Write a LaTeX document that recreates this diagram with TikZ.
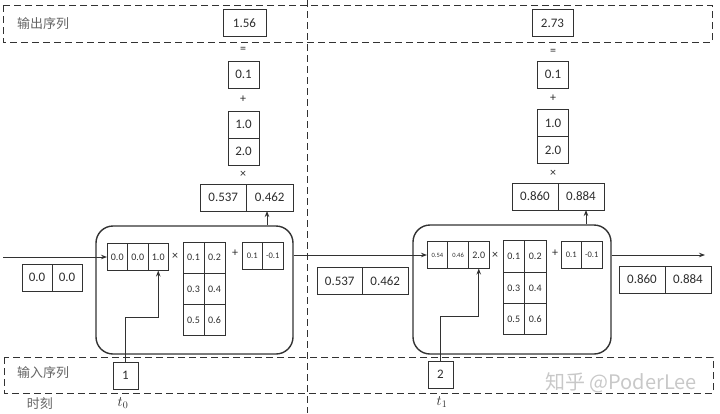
\documentclass[tikz,border=0pt]{standalone}
\usepackage{fontspec}
\setmainfont{Carlito}
\newfontfamily\cjk{Noto Sans CJK SC}
\usetikzlibrary{arrows.meta, positioning}
\definecolor{rnnline}{RGB}{50, 50, 50}
\definecolor{rnntext}{RGB}{45, 45, 45}
\definecolor{rnnlabel}{RGB}{100, 100, 100}
\definecolor{rnnmark}{RGB}{200, 200, 200}
\tikzset{
  cell/.style={rectangle, draw=rnnline, line width=0.8pt, inner sep=0pt, outer sep=0pt,
               minimum width=#1, minimum height=27pt, text=rnntext, font=\fontsize{13}{13}\selectfont},
  cell/.default=31pt,
  scell/.style={cell=#1, font=\fontsize{10}{10}\selectfont},
  scell/.default=20.5pt,
  bcell/.style={cell=#1, font=\fontsize{8.5}{8.5}\selectfont},
  bcell/.default=20.5pt,
  tcell/.style={cell=#1, font=\fontsize{6.5}{6.5}\selectfont},
  tcell/.default=20.5pt,
  mcell/.style={scell=#1, minimum height=31.3pt},
  mcell/.default=21pt,
  rnnbox/.style={rectangle, rounded corners=17pt, draw=rnnline, line width=1.4pt,
                 minimum width=#1, minimum height=128pt},
  rnnbox/.default=197pt,
  region/.style={draw=rnnline, dash pattern=on 7pt off 4pt, line width=0.8pt},
  op/.style={text=rnntext, font=\fontsize{12}{12}\selectfont},
  zone/.style={text=rnnlabel, font=\cjk\fontsize{13}{13}\selectfont},
  tick/.style={text=rnntext, font=\Large},
  arrow/.style={-{Stealth[length=6pt, width=4.5pt]}, line width=0.9pt, color=rnnline},
}
\begin{document}
\begin{tikzpicture}[x=1pt, y=-1pt]
  \useasboundingbox (0,0) rectangle (720,413);
  % bands and time divider
  \draw[region] (3,5) rectangle (712,42);
  \draw[region] (4,357) rectangle (713,393);
  \draw[region] (307,0) -- (307,413);
  \node[zone] (outlbl) at (43,24) {输出序列};
  \node[zone] (inlbl) at (43,373) {输入序列};
  \node[zone] (timelbl) at (40,404) {时刻};

  % initial state
  \node[cell=30pt] (hoa0) at (37,277.5) {0.0};
  \node[cell=30pt, right=0pt of hoa0] (hob0) {0.0};

  % step t0
  \node[rnnbox] (rnn1) at (194.5,290) {};
  \node[scell] (xa1) at (117.25,257) {0.0};
  \node[scell, right=0pt of xa1] (xb1) {0.0};
  \node[scell, right=0pt of xb1] (xc1) {1.0};
  \node[op] (mul1) at (175,256) {×};
  \node[mcell] (wa1) at (193.5,257.6) {0.1};
  \node[mcell, right=0pt of wa1] (wb1) {0.2};
  \node[mcell, below=0pt of wa1] (wc1) {0.3};
  \node[mcell, right=0pt of wc1] (wd1) {0.4};
  \node[mcell, below=0pt of wc1] (we1) {0.5};
  \node[mcell, right=0pt of we1] (wf1) {0.6};
  \node[op] (add1) at (235,253) {+};
  \node[bcell] (ba1) at (252.25,255.5) {0.1};
  \node[bcell, right=0pt of ba1] (bb1) {-0.1};
  \node[cell=46.5pt] (hla1) at (223.25,197.5) {0.537};
  \node[cell=46.5pt, right=0pt of hla1] (hlb1) {0.462};
  \node[op] (mulo1) at (243,174) {×};
  \node[cell] (wob1) at (243.5,151.5) {2.0};
  \node[cell, above=0pt of wob1] (woa1) {1.0};
  \node[op] (addo1) at (243,99) {+};
  \node[cell] (bo1) at (243.5,74.5) {0.1};
  \node[op] (eq1) at (243,50) {=};
  \node[cell=43pt] (y1) at (244.5,23) {1.56};
  \node[cell=25pt] (in1) at (125.5,375.5) {1};
  \node[tick] (t0) at (123,403) {$t_0$};

  % hidden state passed on
  \node[cell=45.5pt] (hoa1) at (339.75,281) {0.537};
  \node[cell=45.5pt, right=0pt of hoa1] (hob1) {0.462};

  % step t1
  \node[rnnbox=198pt, minimum height=129pt] (rnn2) at (512,289.5) {};
  \node[tcell=20.7pt] (xa2) at (437.35,255) {0.54};
  \node[tcell=20.7pt, right=0pt of xa2] (xb2) {0.46};
  \node[scell=20.7pt, right=0pt of xb2] (xc2) {2.0};
  \node[op] (mul2) at (495,255) {×};
  \node[mcell=21.5pt] (wa2) at (513.75,256.5) {0.1};
  \node[mcell=21.5pt, right=0pt of wa2] (wb2) {0.2};
  \node[mcell=21.5pt, below=0pt of wa2] (wc2) {0.3};
  \node[mcell=21.5pt, right=0pt of wc2] (wd2) {0.4};
  \node[mcell=21.5pt, below=0pt of wc2] (we2) {0.5};
  \node[mcell=21.5pt, right=0pt of we2] (wf2) {0.6};
  \node[op] (add2) at (555,253) {+};
  \node[bcell] (ba2) at (571.25,255) {0.1};
  \node[bcell, right=0pt of ba2] (bb2) {-0.1};
  \node[cell=46pt] (hla2) at (535,196.5) {0.860};
  \node[cell=46pt, right=0pt of hla2] (hlb2) {0.884};
  \node[op] (mulo2) at (553,173) {×};
  \node[cell] (wob2) at (553,150) {2.0};
  \node[cell, above=0pt of wob2] (woa2) {1.0};
  \node[op] (addo2) at (553,98) {+};
  \node[cell] (bo2) at (553,74.5) {0.1};
  \node[op] (eq2) at (553,52) {=};
  \node[cell=41pt] (y2) at (552.5,23) {2.73};
  \node[cell=25pt] (in2) at (440.5,374.5) {2};
  \node[tick] (t1) at (442,402) {$t_1$};

  % final state
  \node[cell=46pt] (hoa2) at (642,279.5) {0.860};
  \node[cell=46pt, right=0pt of hoa2] (hob2) {0.884};

  \node[text=rnnmark, font=\cjk\fontsize{20}{20}\selectfont] (mark) at (621,383) {知乎 @PoderLee};

  % connectors
  \coordinate (src) at (3,0);
  \coordinate (sink) at (705,0);
  \coordinate (up1) at (267,0);
  \coordinate (up2) at (586,0);
  \draw[arrow] (src |- xa1.west) -- (xa1.west);
  \draw[arrow] (in1.north) -- ++(0,-45) -| (xc1.south);
  \draw[arrow] (up1 |- rnn1.north) -- (up1 |- hlb1.south);
  \draw[arrow] (rnn1.east |- xa2.west) -- (xa2.west);
  \draw[arrow] (in2.north) -- ++(0,-45) -| (xc2.south);
  \draw[arrow] (up2 |- rnn2.north) -- (up2 |- hlb2.south);
  \draw[arrow] (rnn2.east |- xa2.west) -- (sink |- xa2.west);
\end{tikzpicture}
\end{document}
